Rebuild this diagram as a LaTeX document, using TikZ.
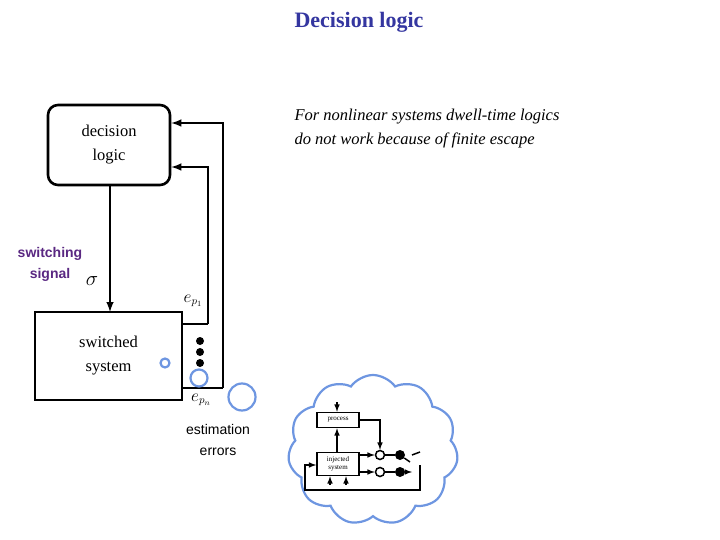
\documentclass[tikz,border=0pt]{standalone}
\usepackage{fontspec}
\setmainfont{Liberation Serif}
\newfontfamily\sans{Liberation Sans}
\usetikzlibrary{positioning, shapes, calc}
\definecolor{titleblue}{RGB}{52,54,160}
\definecolor{sigpurple}{RGB}{90,40,130}
\definecolor{cloudblue}{RGB}{110,150,225}
\tikzset{blk/.style={draw, line width=2.6pt, inner sep=0pt, align=center}}

\begin{document}
\begin{tikzpicture}[
		x=1pt, y=-1pt,
		arrow/.style={-latex, line width=2.4pt},
		line/.style={line width=2.4pt},
		bubble/.style={draw=cloudblue, line width=2.2pt, circle, inner sep=0pt},
		small/.style={blk, line width=1.5pt, font=\fontsize{7}{8}\selectfont, minimum height=15pt},
		dot/.style={circle, fill, inner sep=0pt, minimum size=8pt},
		odot/.style={circle, draw, line width=1.5pt, inner sep=0pt, minimum size=9pt},
		fdot/.style={circle, fill, inner sep=0pt, minimum size=10pt},
		sm/.style={-latex, line width=1.5pt}
		]
		\useasboundingbox (0,0) rectangle (720,540);
		% title and note
		\node[text=titleblue, font=\bfseries\fontsize{22}{24}\selectfont] (title) at (359,22) {Decision logic};
		\node[anchor=west, font=\itshape\fontsize{16.5}{24}\selectfont, align=left] (note) at (291,129) {For nonlinear systems dwell-time logics\\do not work because of finite escape};

		% main loop
		\node[blk, rounded corners=10pt, minimum width=122pt, minimum height=80pt, font=\fontsize{16.5}{24}\selectfont] (logic) at (109,145) {decision\\logic};
		\node[blk, line width=2.2pt, minimum width=147pt, minimum height=88pt, font=\fontsize{16.5}{24}\selectfont] (sys) at (108.5,356) {switched\\system};
		\coordinate (in) at (110,312);
		\draw[arrow] (logic.south -| in) -- (in);
		\node[text=sigpurple, align=center, font=\sans\bfseries\fontsize{14}{21}\selectfont] (sw) at (50,264) {switching\\signal};
		\node[font=\fontsize{22}{24}\selectfont] (sigma) at (92,281) {$\mathrm{\sigma}$};

		\coordinate (o1) at (208,324);
		\coordinate (on) at (223,388);
		\draw[line] (sys.east |- o1) -- (o1);
		\draw[arrow] (o1) -- (o1 |- 0,167) -- (logic.east |- 0,167);
		\draw[line] (sys.east |- on) -- (on);
		\draw[arrow] (on) -- (on |- 0,123) -- (logic.east |- 0,123);
		\foreach \y in {341,352,363}
			\node[dot] (d\y) at (200,\y) {};
		\node[font=\fontsize{16}{18}\selectfont] (ep1) at (193,301) {$e_{p_1}$};
		\node[font=\fontsize{16}{18}\selectfont] (epn) at (201,400) {$e_{p_n}$};
		\node[font=\sans\fontsize{14}{21}\selectfont, align=center] (err) at (218,440) {estimation\\errors};

		% thought bubble
		\node[bubble, minimum size=9pt] (b1) at (165,363) {};
		\node[bubble, minimum size=17pt] (b2) at (199,378) {};
		\node[bubble, minimum size=27pt] (b3) at (242,397) {};
		\node[cloud, cloud puffs=11, cloud puff arc=110, aspect=1.1, draw=cloudblue, line width=2.2pt, minimum width=170pt, minimum height=150pt] (cloud) at (373,450) {};

		% small injected system sketch
		\node[small, minimum width=42pt] (proc) at (338,420) {process};
		\node[small, minimum width=42pt, minimum height=23pt, align=center] (inj) at (338,464) {injected\\system};
		\draw[sm] (337,402) -- (proc.north -| 337,0);
		\draw[sm] (inj.north -| 337,0) -- (proc.south -| 337,0);
		\node[odot] (c1) at (380,455) {};
		\node[odot] (c2) at (380,472) {};
		\node[fdot] (f1) at (400,455) {};
		\node[fdot] (f2) at (400,472) {};
		\draw[sm] (proc.east) -- (proc.east -| c1) -- (c1);
		\draw[sm] (inj.east |- c1) -- (c1);
		\draw[sm] (inj.east |- c2) -- (c2);
		\draw[line width=1.5pt] (c1) -- (f1);
		\draw[line width=1.5pt] (c2) -- (f2);
		\draw[sm] (f2) -- (412,472);
		\coordinate (sw1) at (420,490);
		\draw[line width=1.5pt] (f1) -- (410,462) (412,455) -- (420,452);
		\draw[sm] (420,465) -- (sw1) -- (305,490) -- (305,465) -- (inj.west |- 0,465);
		\draw[sm] (330,485) -- (inj.south -| 330,0);
		\draw[sm] (346,485) -- (inj.south -| 346,0);
	\end{tikzpicture}
\end{document}
